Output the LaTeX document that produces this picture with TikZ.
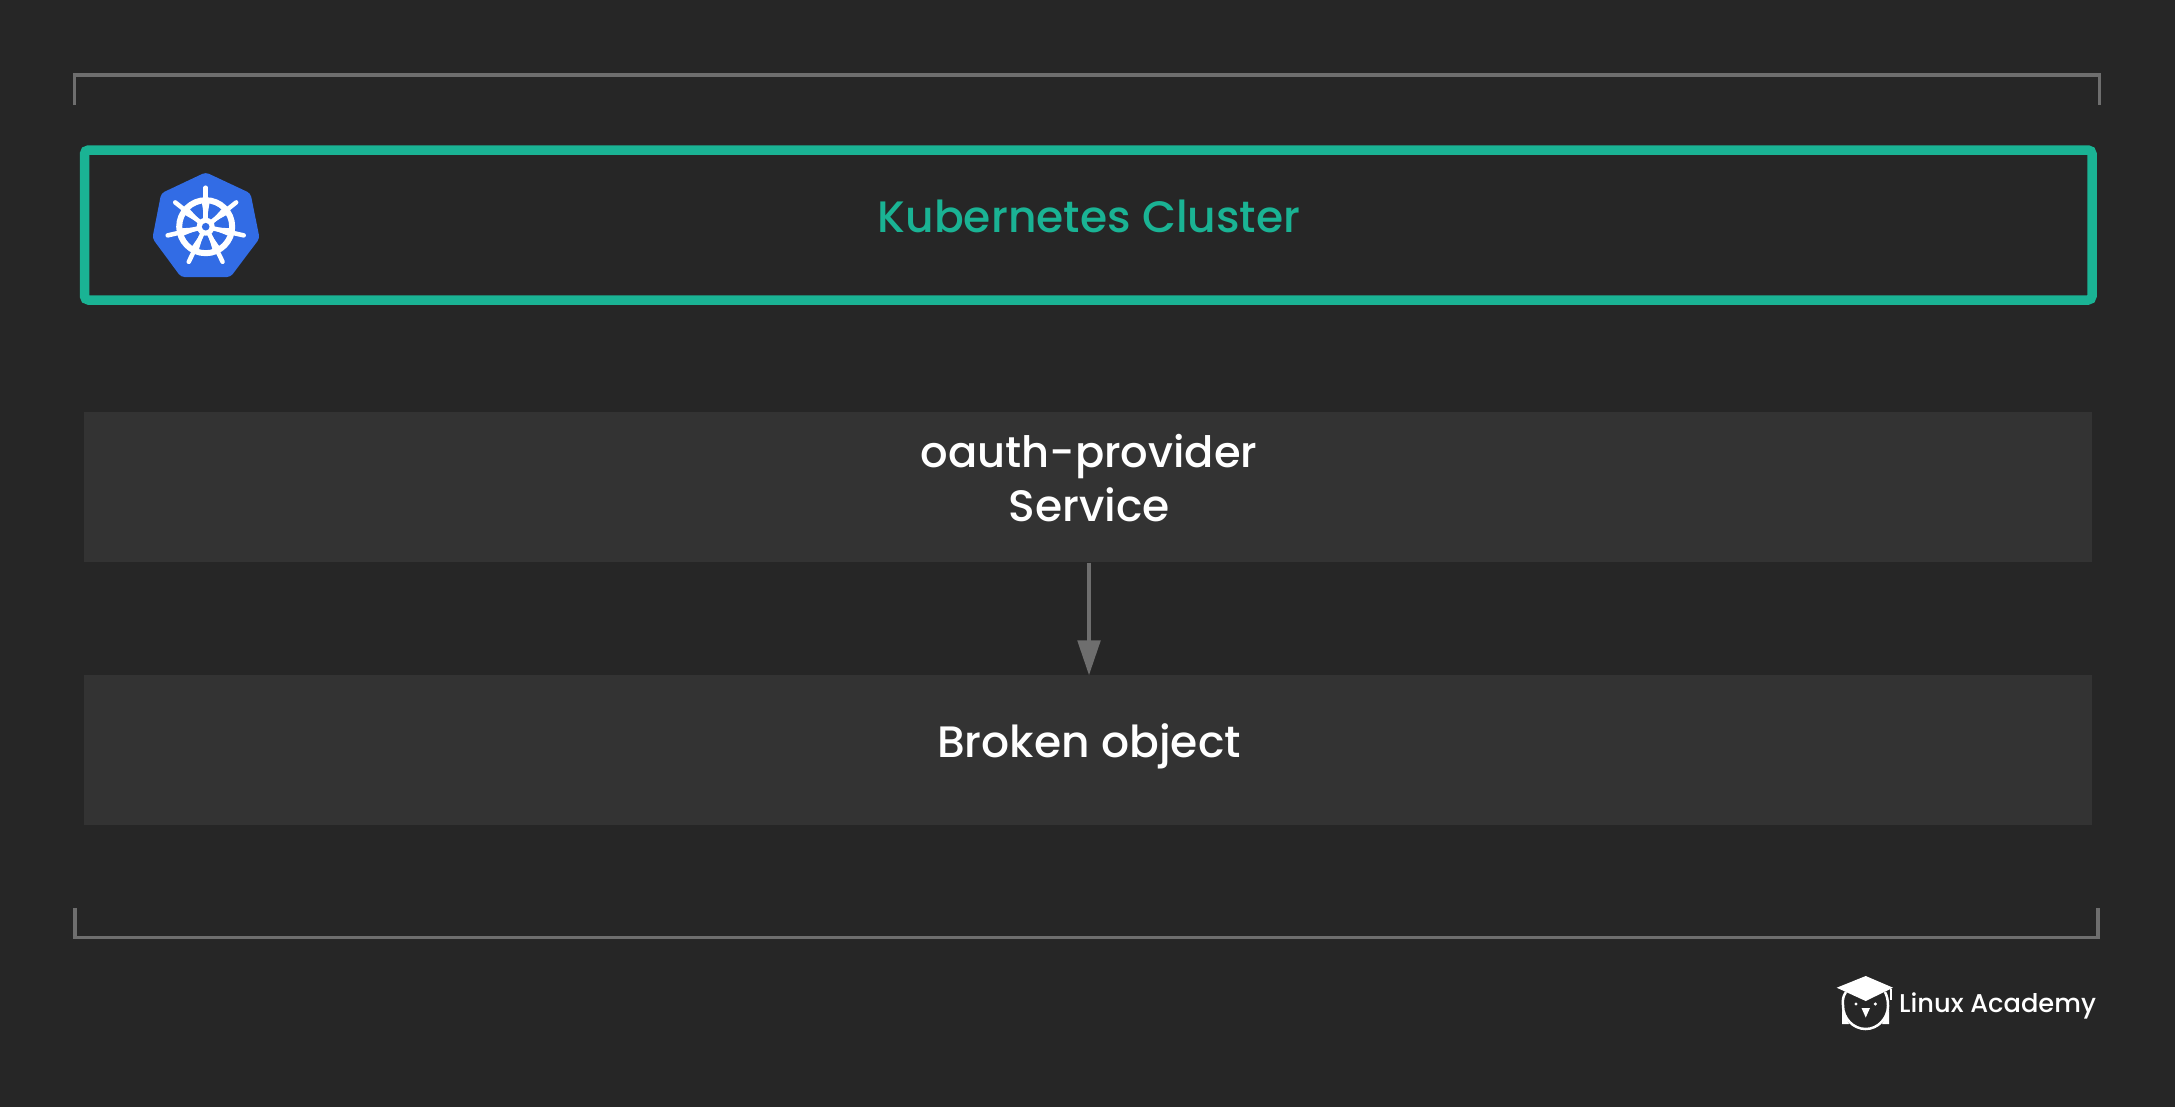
\documentclass[tikz,border=0pt]{standalone}
\usepackage{fontspec}
\setmainfont{Poppins Medium}
\usetikzlibrary{arrows.meta,calc}
\definecolor{bgc}{HTML}{262626}
\definecolor{boxc}{HTML}{333333}
\definecolor{tealc}{HTML}{1AB394}
\definecolor{bluec}{HTML}{326CE5}
\definecolor{linec}{HTML}{6E6E6E}
\tikzset{
  x=1pt,y=-1pt,
  bracket/.style={draw=linec,line width=3.5pt,miter limit=10},
  band/.style={fill=boxc,draw=none,minimum width=2008pt,minimum height=150pt,inner sep=0pt},
  cluster/.style={draw=tealc,line width=9.5pt,rounded corners=4pt,minimum width=2007.5pt,minimum height=150pt,inner sep=0pt},
  lab/.style={text=white,anchor=base,font=\fontsize{44}{50}\selectfont,inner sep=0pt},
  flow/.style={draw=linec,line width=4pt,-{Triangle[width=22.5pt,length=35pt,fill=linec]},shorten >=-0.5pt},
  spoke/.style={draw=white,line width=4.5pt,line cap=round},
}
\begin{document}
\begin{tikzpicture}
\useasboundingbox (0,0) rectangle (2175,1106);
\fill[bgc] (-3,-3) rectangle (2178,1109);
% brackets
\coordinate (tl0) at (74.5,105); \coordinate (tl1) at (74.5,75); \coordinate (tr1) at (2099.5,75); \coordinate (tr0) at (2099.5,105);
\draw[bracket] (tl0) -- (tl1) -- (tr1) -- (tr0);
\coordinate (bl0) at (75,908); \coordinate (bl1) at (75,937.5); \coordinate (br1) at (2098,937.5); \coordinate (br0) at (2098,908);
\draw[bracket] (bl0) -- (bl1) -- (br1) -- (br0);
% cluster
\node[cluster] (cluster) at (1088.25,225) {};
\node[lab,text=tealc] (clusterlabel) at (1089,232) {Kubernetes Cluster};
% k8s logo
\fill[bluec,rounded corners=3.5pt] (205.7,172.3) -- (250.5,193.3) -- (259.6,238.3) -- (230.5,277) -- (181,277) -- (152.4,238.3) -- (161.2,193.3) -- cycle;
\coordinate (hub) at (205.7,226.7);
\draw[white,line width=6pt] (hub) circle[radius=26.5];
\foreach \a in {90,141.43,192.86,244.29,295.71,347.14,398.57}{
  \draw[spoke] ($(hub)+(\a:6 and -6)$) -- ($(hub)+(\a:39 and -39)$);
  \fill[white] ($(hub)+(\a:25 and -25)+(\a+90:4 and -4)$) -- ($(hub)+(\a:25 and -25)+(\a-90:4 and -4)$) -- (hub) -- cycle;
}
\fill[white] (hub) circle[radius=9];
\fill[bluec] (hub) circle[radius=3.8];
% bands
\node[band] (provider) at (1087.5,487.3) {};
\node[band] (broken) at (1087.5,750) {};
\node[lab,font=\fontsize{43.2}{50}\selectfont] (providerlabel1) at (1089,467) {oauth-provider};
\node[lab] (providerlabel2) at (1089,521) {Service};
\node[lab] (brokenlabel) at (1089,757) {Broken object};
\draw[flow] (provider.south -| providerlabel1) -- (broken.north -| providerlabel1);
% logo
\fill[white] (1865.7,976) -- (1893,987.7) -- (1865.7,1001) -- (1836.7,987.7) -- cycle;
\draw[white,line width=2pt] (1891,989) -- (1891,1000);
\draw[white,line width=2.5pt] (1846,992) .. controls (1842,998) and (1843,1000) .. (1843,1006) .. controls (1843,1018) and (1853,1029) .. (1865.7,1029) .. controls (1878,1029) and (1888,1018) .. (1888,1006) .. controls (1888,1000) and (1887,996) .. (1885,992);
\fill[white] (1842,1010) -- (1842,1024) -- (1849,1024) -- cycle;
\fill[white] (1889,1010) -- (1889,1024) -- (1882,1024) -- cycle;
\fill[white] (1856,1004) circle[radius=1.7];
\fill[white] (1875.3,1004) circle[radius=1.7];
\fill[white] (1861.5,1008) -- (1870,1008) -- (1865.7,1017.5) -- cycle;
\node[text=white,anchor=base west,font=\fontsize{25.7}{30}\selectfont,inner sep=0pt] (brand) at (1899,1012) {Linux Academy};
\end{tikzpicture}
\end{document}
